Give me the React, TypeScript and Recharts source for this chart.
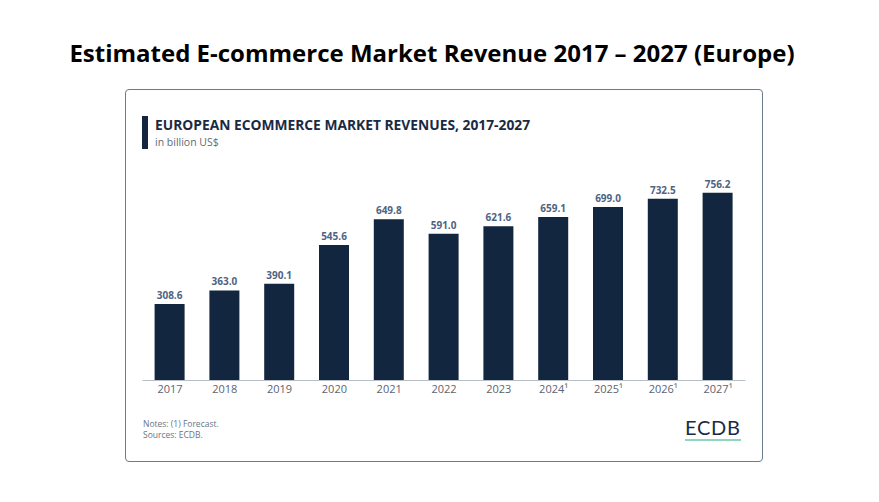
import React from "react";
import { BarChart, Bar, XAxis, YAxis, LabelList } from "recharts";

const years = ["2017", "2018", "2019", "2020", "2021", "2022", "2023", "2024¹", "2025¹", "2026¹", "2027¹"];
const revenue = [308.6, 363.0, 390.1, 545.6, 649.8, 591.0, 621.6, 659.1, 699.0, 732.5, 756.2];

const data = years.map((year, i) => ({ year, revenue: revenue[i] }));

const NAVY = "#13263f";
const FONT = "'Open Sans', sans-serif";

const App: React.FC = () => {
  return (
    <div style={{ position: "absolute", left: 0, top: 0, width: 879, height: 502, background: "#fff", overflow: "hidden" }}>
      <div
        style={{
          position: "absolute",
          left: 0,
          top: 36,
          width: 864,
          textAlign: "center",
          fontFamily: FONT,
          fontWeight: 700,
          fontSize: 24,
          color: "#000",
          whiteSpace: "nowrap",
        }}
      >
        Estimated E-commerce Market Revenue 2017 – 2027 (Europe)
      </div>

      {/* card */}
      <div
        style={{
          position: "absolute",
          left: 125,
          top: 89,
          width: 636,
          height: 371,
          border: "1.5px solid #6b7a8f",
          borderRadius: 4,
        }}
      />
      <div style={{ position: "absolute", left: 142, top: 116, width: 6, height: 33, background: NAVY }} />
      <div
        style={{
          position: "absolute",
          left: 155,
          top: 115,
          fontFamily: FONT,
          fontWeight: 700,
          fontSize: 13.8,
          color: "#1a2a44",
          whiteSpace: "nowrap",
        }}
      >
        EUROPEAN ECOMMERCE MARKET REVENUES, 2017-2027
      </div>
      <div
        style={{
          position: "absolute",
          left: 155,
          top: 135,
          fontFamily: FONT,
          fontSize: 10.5,
          color: "#5f6b7a",
        }}
      >
        in billion US$
      </div>

      <div style={{ position: "absolute", left: 0, top: 0 }}>
        <BarChart
          width={879}
          height={502}
          data={data}
          margin={{ top: 182, right: 133.6, bottom: 91.5, left: 142.6 }}
        >
          <YAxis hide domain={[0, 800]} />
          <XAxis
            dataKey="year"
            height={30}
            tickLine={false}
            tickSize={3}
            axisLine={{ stroke: "#b8bec6", strokeWidth: 1 }}
            tick={{ fill: "#5c6470", fontSize: 11, fontFamily: FONT }}
            interval={0}
          />
          <Bar dataKey="revenue" fill={NAVY} barSize={30} isAnimationActive={false}>
            <LabelList
              dataKey="revenue"
              position="top"
              offset={5}
              formatter={(v: number) => v.toFixed(1)}
              style={{ fill: "#4f6382", fontSize: 10, fontWeight: 700, fontFamily: FONT }}
            />
          </Bar>
        </BarChart>
      </div>

      <div
        style={{
          position: "absolute",
          left: 143,
          top: 418,
          fontFamily: FONT,
          fontSize: 8.5,
          lineHeight: "11px",
          color: "#6b7380",
        }}
      >
        Notes: (1) Forecast.
        <br />
        Sources: ECDB.
      </div>
      <div
        style={{
          position: "absolute",
          left: 685,
          top: 417,
          fontFamily: "Lato, sans-serif",
          fontSize: 20,
          color: "#1a2a44",
          letterSpacing: 0.7,
          borderBottom: "2.5px solid #8fd6c2",
          lineHeight: "21px",
          paddingBottom: 1,
        }}
      >
        ECDB
      </div>
    </div>
  );
};

export default App;
